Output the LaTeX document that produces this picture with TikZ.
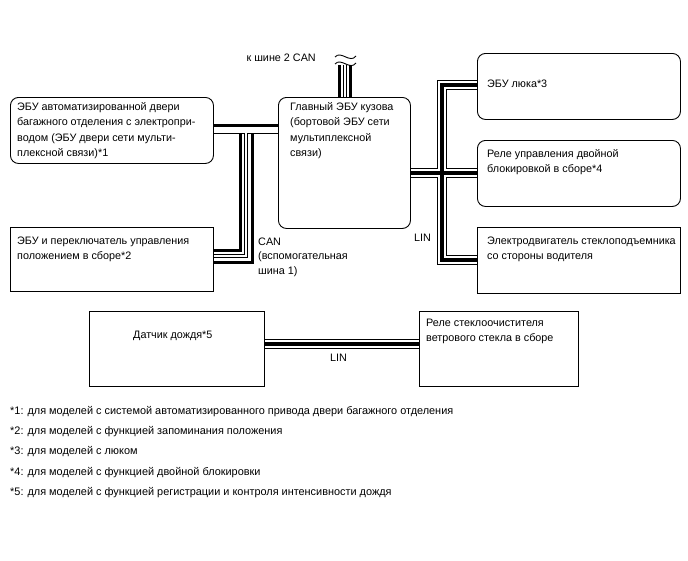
\documentclass[tikz,border=0pt]{standalone}
\usepackage{fontspec}
\setmainfont{Liberation Sans}

\tikzset{
  rbox/.style={draw, line width=0.9pt, rounded corners=8pt, anchor=north west, inner sep=0pt},
  sbox/.style={draw, line width=0.8pt, anchor=north west, inner sep=0pt},
  boxtext/.style={anchor=base west, align=left, inner sep=0pt, font=\fontsize{10.8}{15.6}\selectfont},
  notetext/.style={anchor=base west, inner sep=0pt, font=\fontsize{10.9}{12}\selectfont},
  lincable/.style={line width=3.4pt, preaction={draw, line width=10pt}, preaction={draw, white, line width=8.2pt}},
  canthick/.style={line width=3pt},
  canwire/.style={white, line width=2.4pt, preaction={draw=black, line width=4pt}},
}

\begin{document}
\begin{tikzpicture}[x=1pt,y=-1pt]

    \useasboundingbox (0,0) rectangle (688,560);

    %% Blocks
    \node[rbox, minimum width=203pt, minimum height=66pt] (tailecu) at (10,97) {};
    \node[rbox, minimum width=132pt, minimum height=131pt] (mainecu) at (278,97) {};
    \node[sbox, minimum width=203pt, minimum height=64pt] (posecu) at (10,227) {};
    \node[rbox, minimum width=203pt, minimum height=66pt] (roofecu) at (477,53) {};
    \node[rbox, minimum width=203pt, minimum height=66pt] (lockrelay) at (477,140) {};
    \node[sbox, minimum width=203pt, minimum height=66pt] (pwmotor) at (477,227) {};
    \node[sbox, minimum width=175pt, minimum height=75pt] (rainsensor) at (89,311) {};
    \node[sbox, minimum width=159pt, minimum height=75pt] (wiperrelay) at (419,311) {};

    % Block texts (placed at the baseline of their last line)
    \node[boxtext] (tailtext) at (17,156.8) {ЭБУ автоматизированной двери\\багажного отделения с электропри-\\водом (ЭБУ двери сети мульти-\\плексной связи)*1};
    \node[boxtext] (maintext) at (290,156.8) {Главный ЭБУ кузова\\(бортовой ЭБУ сети\\мультиплексной\\связи)};
    \node[boxtext] (postext) at (17,259.6) {ЭБУ и переключатель управления\\положением в сборе*2};
    \node[boxtext] (rooftext) at (487,87) {ЭБУ люка*3};
    \node[boxtext] (locktext) at (487,172.6) {Реле управления двойной\\блокировкой в сборе*4};
    \node[boxtext] (pwtext) at (487,259.6) {Электродвигатель стеклоподъемника\\со стороны водителя};
    \node[boxtext] (raintext) at (133,338) {Датчик дождя*5};
    \node[boxtext] (wipertext) at (426,341.6) {Реле стеклоочистителя\\ветрового стекла в сборе};

    %% CAN (sub bus 1)
    \coordinate (cana) at (246,125);
    \coordinate (canb) at (246,131.5);
    \coordinate (canc) at (246,256);
    \draw[canthick] (tailecu.east |- cana) -- (mainecu.west |- cana);
    \draw[canwire] (tailecu.east |- canb) -- (mainecu.west |- canb)
                   (canb) -- (canc) -- (posecu.east |- canc);
    \draw[canthick] (240,134) -- (240,250) -- (posecu.east |- 0,250);
    \draw[canthick] (252,134) -- (252,262) -- (posecu.east |- 0,262);
    \node[boxtext, font=\fontsize{10.8}{14.6}\selectfont] (canlabel) at (258,274.5) {CAN\\(вспомогательная\\шина 1)};

    %% to CAN bus 2
    \coordinate (cantopa) at (339.5,65);
    \coordinate (cantopb) at (345,65);
    \coordinate (cantopc) at (350.5,65);
    \draw[canthick] (cantopa) -- (mainecu.north -| cantopa);
    \draw[canwire] (cantopb) -- (mainecu.north -| cantopb);
    \draw[canthick] (cantopc) -- (mainecu.north -| cantopc);
    % break marks
    \draw[line width=0.9pt] (335,57) .. controls (341,50) and (350,64) .. (356,56);
    \draw[line width=0.9pt] (335,64) .. controls (341,57) and (350,71) .. (356,63);
    \node[boxtext, anchor=base east] (can2label) at (316,61) {к шине 2 CAN};

    %% LIN
    \coordinate (lintop) at (442,85);
    \coordinate (linmid) at (442,173);
    \coordinate (linbot) at (442,260);
    \coordinate (linlow) at (340,344);
    \draw[lincable] (roofecu.west |- lintop) -- (lintop) -- (linbot) -- (pwmotor.west |- linbot)
                    (mainecu.east |- linmid) -- (lockrelay.west |- linmid)
                    (rainsensor.east |- linlow) -- (wiperrelay.west |- linlow);
    \node[boxtext] (linlabel) at (414,241) {LIN};
    \node[boxtext] (linlabelb) at (330,361) {LIN};

    %% Notes
    \node[notetext] (note1) at (10,414) {*1: для моделей с системой автоматизированного привода двери багажного отделения};
    \node[notetext] (note2) at (10,434) {*2: для моделей с функцией запоминания положения};
    \node[notetext] (note3) at (10,454) {*3: для моделей с люком};
    \node[notetext] (note4) at (10,475) {*4: для моделей с функцией двойной блокировки};
    \node[notetext] (note5) at (10,495) {*5: для моделей с функцией регистрации и контроля интенсивности дождя};

\end{tikzpicture}
\end{document}
